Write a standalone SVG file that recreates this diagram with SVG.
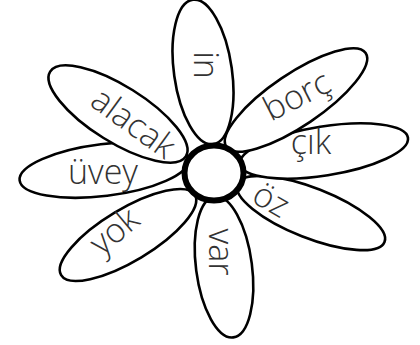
<svg xmlns="http://www.w3.org/2000/svg" width="420" height="345" viewBox="0 0 420 345">
<style>
.petal{fill:#fff;stroke:#000;stroke-width:2.6}
.lbl{font-family:"Open Sans","Liberation Sans",sans-serif;font-weight:300;font-size:34px;fill:#333;text-anchor:middle}
</style>
<rect width="420" height="345" fill="#fff"/>
<g id="petal-var"><ellipse class="petal" cx="224" cy="267" rx="28" ry="71" transform="rotate(-7.5 224 267)"/><text class="lbl" transform="translate(218 252) rotate(90)" y="9">var</text></g>
<g id="petal-oz"><ellipse class="petal" cx="311" cy="213" rx="79" ry="25" transform="rotate(21.5 311 213)"/><text class="lbl" transform="translate(270 202) rotate(30)" y="9">öz</text></g>
<g id="petal-yok"><ellipse class="petal" cx="128" cy="235" rx="78" ry="26" transform="rotate(-31 128 235)"/><text class="lbl" transform="translate(116 233) rotate(-40)" y="9">yok</text></g>
<g id="petal-cik"><ellipse class="petal" cx="324" cy="151" rx="85" ry="24.5" transform="rotate(-9 324 151)"/><text class="lbl" x="311" y="154">çık</text></g>
<g id="petal-uvey"><ellipse class="petal" cx="104" cy="170" rx="85" ry="26" transform="rotate(-7 104 170)"/><text class="lbl" x="103" y="184">üvey</text></g>
<g id="petal-borc"><ellipse class="petal" cx="296" cy="100" rx="84" ry="26" transform="rotate(-34 296 100)"/><text class="lbl" transform="translate(298 98) rotate(-27)" y="9">borç</text></g>
<g id="petal-alacak"><ellipse class="petal" cx="118" cy="114" rx="80" ry="28" transform="rotate(32 118 114)"/><text class="lbl" transform="translate(132 125) rotate(36)" y="9">alacak</text></g>
<g id="petal-in"><ellipse class="petal" cx="203" cy="72" rx="29" ry="73" transform="rotate(-8 203 72)"/><text class="lbl" transform="translate(203 65) rotate(90)" y="9">in</text></g>
<g id="center"><ellipse cx="214" cy="173" rx="29.5" ry="27.5" fill="#fff" stroke="#000" stroke-width="6"/></g>
</svg>
